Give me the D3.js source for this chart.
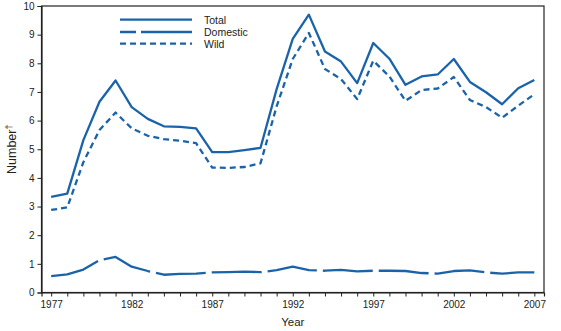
<!DOCTYPE html>
<html><head><meta charset="utf-8">
<script src="https://cdn.jsdelivr.net/npm/d3@7"></script>
<style>body{margin:0;background:#fff}svg{display:block}text{font-family:"Liberation Sans",Arial,sans-serif;fill:#222}</style>
</head><body><svg id="c" width="561" height="331"></svg>
<script>
const years = d3.range(1977, 2008);
const total = [3.34,3.45,5.32,6.66,7.40,6.47,6.06,5.80,5.78,5.73,4.90,4.90,4.97,5.05,7.10,8.85,9.70,8.41,8.06,7.31,8.71,8.16,7.25,7.54,7.61,8.15,7.35,6.99,6.57,7.13,7.42];
const domestic = [0.57,0.63,0.80,1.13,1.24,0.90,0.75,0.62,0.65,0.66,0.70,0.71,0.73,0.71,0.78,0.90,0.78,0.76,0.79,0.74,0.76,0.76,0.75,0.68,0.66,0.75,0.77,0.70,0.66,0.70,0.70];
const wild = [2.88,2.97,4.55,5.67,6.28,5.73,5.47,5.35,5.30,5.21,4.36,4.35,4.38,4.51,6.50,8.15,9.06,7.80,7.45,6.75,8.09,7.54,6.69,7.07,7.12,7.52,6.72,6.47,6.10,6.52,6.92];
const yTicks = [0,1,2,3,4,5,6,7,8,9,10];
const xLabels = [1977,1982,1987,1992,1997,2002,2007];
const seriesNames = ["Total","Domestic","Wild"];
const dashes = [null,"50,6","6,4"];
const color = "#1b63a9";

const svg = d3.select("#c");
const L=41.5, R=544, T=6, B=292.5;
const x = d3.scaleLinear().domain([1976.4, 2007.6]).range([L, R]);
const y = d3.scaleLinear().domain([0,10]).range([B, T]);

svg.append("rect").attr("x",L).attr("y",T).attr("width",R-L).attr("height",B-T)
  .attr("fill","none").attr("stroke","#222").attr("stroke-width",1.2);

const ya = svg.append("g").attr("transform",`translate(${L},0)`)
  .call(d3.axisLeft(y).tickValues(yTicks).tickSize(4).tickPadding(3).tickFormat(d3.format("d")));
const xa = svg.append("g").attr("transform",`translate(0,${B})`)
  .call(d3.axisBottom(x).tickValues(years).tickSize(4).tickPadding(4)
    .tickFormat(d => xLabels.includes(d) ? d : ""));
[ya,xa].forEach(g=>{
  g.select(".domain").attr("stroke","#222").attr("stroke-width",1.2);
  g.selectAll(".tick line").attr("stroke","#222");
  g.selectAll("text").attr("font-size",10).attr("fill","#222").attr("font-family","Liberation Sans, Arial, sans-serif");
});

const line = d3.line().x((d,i)=>x(years[i])).y(d=>y(d));
[total,domestic,wild].forEach((s,k)=>{
  svg.append("path").datum(s).attr("d",line).attr("fill","none")
    .attr("stroke",color).attr("stroke-width",2.3).attr("stroke-linejoin","round")
    .attr("stroke-dasharray",dashes[k]);
});

const legY = [19.7,32,43.7];
const legDash = [null,"16,5,60","6,4"];
seriesNames.forEach((n,k)=>{
  svg.append("line").attr("x1",120).attr("x2",192).attr("y1",legY[k]).attr("y2",legY[k])
    .attr("stroke",color).attr("stroke-width",2.3).attr("stroke-dasharray",legDash[k]);
  svg.append("text").attr("x",204).attr("y",legY[k]+4).attr("font-size",10.5).text(n);
});

const yt = svg.append("text").attr("transform",`translate(16,${(T+B)/2}) rotate(-90)`)
  .attr("text-anchor","middle").attr("font-size",12.5);
yt.append("tspan").text("Number");
yt.append("tspan").attr("font-size",9).attr("dy",-4).text("†");
svg.append("text").attr("x",(L+R)/2).attr("y",326).attr("text-anchor","middle").attr("font-size",11.5).text("Year");
</script></body></html>
